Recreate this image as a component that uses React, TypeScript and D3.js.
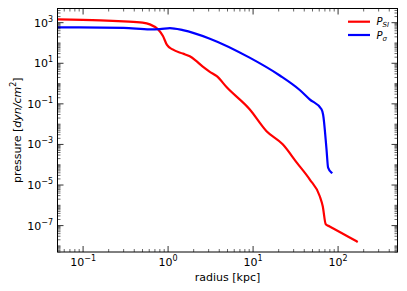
import * as d3 from 'd3';

// P_SI curve
const radiusSI = [0.05, 0.16, 0.3, 0.5, 0.61, 0.76, 0.87, 0.97, 1.13, 1.49, 1.8, 2.1, 2.56, 3.1, 3.74, 4.9, 9.1, 14.4, 22.3, 33, 46.3, 60.9, 66, 71.6, 79.5, 166];
const pressureSI = [1450, 1300, 1150, 1000, 825, 470, 220, 80, 48, 30, 22, 14, 6.8, 3.8, 2.3, 0.65, 0.054, 0.0045, 0.00102, 1.2e-4, 1.9e-5, 2.8e-6, 8.9e-7, 1.15e-7, 9.1e-8, 1.66e-8];

// P_sigma curve
const radiusSigma = [0.05, 0.3, 0.61, 0.8, 1.05, 1.49, 3.1, 9.1, 20.6, 35.4, 46.3, 63.8, 66.6, 73.1, 76.3, 83.6];
const pressureSigma = [590, 560, 470, 480, 540, 430, 163, 18.9, 2.5, 0.48, 0.167, 0.054, 0.03, 5.7e-4, 7.2e-5, 4.1e-5];

const xMajor = [-1, 0, 1, 2];
const yMajor = [-7, -5, -3, -1, 1, 3];

const W = 407, H = 291;
const M = { left: 57.5, right: 9.5, top: 8.5, bottom: 39 };
const FONT = 'DejaVu Sans, sans-serif';

export default function App() {
  const x = d3.scaleLog().domain([0.05, 500]).range([M.left, W - M.right]);
  const y = d3.scaleLog().domain([5e-9, 5e3]).range([H - M.bottom, M.top]);
  const [x0, x1] = x.range();
  const [y0, y1] = y.range();

  const line = d3.line<[number, number]>()
    .x(d => x(d[0]))
    .y(d => y(d[1]))
    .curve(d3.curveMonotoneX);

  const si = line(radiusSI.map((r, i) => [r, pressureSI[i]]) as [number, number][]) || '';
  const sg = line(radiusSigma.map((r, i) => [r, pressureSigma[i]]) as [number, number][]) || '';

  // minor ticks
  const xMinor: number[] = [];
  for (let d = -2; d <= 2; d++) for (let k = 2; k <= 9; k++) {
    const v = k * Math.pow(10, d);
    if (v >= 0.05 && v <= 500) xMinor.push(v);
  }
  const yMinor: number[] = [];
  for (let d = -9; d <= 3; d++) for (let k = 1; k <= 9; k++) {
    const v = k * Math.pow(10, d);
    if (k === 1 && yMajor.includes(d)) continue;
    if (v >= 5e-9 && v <= 5e3) yMinor.push(v);
  }

  const maj = 6, mnr = 3;
  const sup = (e: number) => (e < 0 ? '\u2212' + Math.abs(e) : String(e));

  return (
    <svg width={W} height={H} style={{ position: 'absolute', left: 0, top: 0, background: '#fff' }}>
      <rect x={0} y={0} width={W} height={H} fill="#fff" />
      <defs>
        <clipPath id="plot"><rect x={x0} y={y1} width={x1 - x0} height={y0 - y1} /></clipPath>
      </defs>
      <g clipPath="url(#plot)" fill="none" strokeWidth={2.2} strokeLinejoin="round" strokeLinecap="square">
        <path d={si} stroke="#ff0000" />
        <path d={sg} stroke="#0000ff" />
      </g>

      {/* ticks */}
      <g stroke="#000">
        {xMajor.map(e => {
          const px = x(Math.pow(10, e));
          return <g key={'xm' + e} strokeWidth={0.8}>
            <line x1={px} x2={px} y1={y0} y2={y0 - maj} />
            <line x1={px} x2={px} y1={y1} y2={y1 + maj} />
          </g>;
        })}
        {xMinor.map((v, i) => {
          const px = x(v);
          return <g key={'xn' + i} strokeWidth={0.6}>
            <line x1={px} x2={px} y1={y0} y2={y0 - mnr} />
            <line x1={px} x2={px} y1={y1} y2={y1 + mnr} />
          </g>;
        })}
        {yMajor.map(e => {
          const py = y(Math.pow(10, e));
          return <g key={'ym' + e} strokeWidth={0.8}>
            <line x1={x0} x2={x0 + maj} y1={py} y2={py} />
            <line x1={x1} x2={x1 - maj} y1={py} y2={py} />
          </g>;
        })}
        {yMinor.map((v, i) => {
          const py = y(v);
          return <g key={'yn' + i} strokeWidth={0.6}>
            <line x1={x0} x2={x0 + mnr} y1={py} y2={py} />
            <line x1={x1} x2={x1 - mnr} y1={py} y2={py} />
          </g>;
        })}
      </g>
      <rect x={x0} y={y1} width={x1 - x0} height={y0 - y1} fill="none" stroke="#000" strokeWidth={1} />

      {/* tick labels */}
      <g fontFamily={FONT} fontSize={11} fill="#000">
        {xMajor.map(e => (
          <text key={'xl' + e} x={x(Math.pow(10, e))} y={y0 + 14} textAnchor="middle">
            10<tspan dy={-5} fontSize={8}>{sup(e)}</tspan>
          </text>
        ))}
        {yMajor.map(e => (
          <text key={'yl' + e} x={x0 - 4.5} y={y(Math.pow(10, e)) + 4} textAnchor="end">
            10<tspan dy={-5} fontSize={8}>{sup(e)}</tspan>
          </text>
        ))}
      </g>

      {/* axis labels */}
      <text x={(x0 + x1) / 2} y={H - 10.5} textAnchor="middle" fontFamily={FONT} fontSize={11}>radius [kpc]</text>
      <text transform={`translate(21,${(y0 + y1) / 2}) rotate(-90)`} textAnchor="middle" fontFamily={FONT} fontSize={11}>
        pressure [<tspan fontStyle="italic">dyn/cm</tspan><tspan dy={-5} fontSize={8}>2</tspan><tspan dy={5}>]</tspan>
      </text>

      {/* legend */}
      <g fontFamily={FONT} fontStyle="italic">
        <line x1={348} x2={370} y1={21.7} y2={21.7} stroke="#ff0000" strokeWidth={2.2} />
        <text x={376.5} y={25} fontSize={10}>P<tspan dy={2} fontSize={7}>SI</tspan></text>
        <line x1={348} x2={370} y1={35} y2={35} stroke="#0000ff" strokeWidth={2.2} />
        <text x={376.5} y={38.5} fontSize={10}>P<tspan dy={2} fontSize={7}>σ</tspan></text>
      </g>
    </svg>
  );
}
